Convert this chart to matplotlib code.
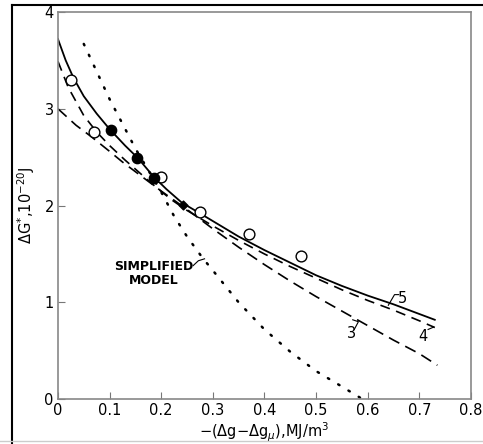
import matplotlib.pyplot as plt
import numpy as np
from matplotlib.lines import Line2D

# curve 5 (solid)
x5 = [0.0, 0.015, 0.03, 0.05, 0.075, 0.1, 0.13, 0.155, 0.185, 0.21, 0.24, 0.275, 0.3,
      0.35, 0.4, 0.45, 0.5, 0.55, 0.6, 0.65, 0.7, 0.73]
y5 = [3.72, 3.5, 3.32, 3.13, 2.95, 2.79, 2.62, 2.49, 2.3, 2.17, 2.03, 1.92, 1.84,
      1.68, 1.54, 1.41, 1.28, 1.17, 1.07, 0.98, 0.88, 0.82]
# curve 4 (dashed)
x4 = [0.0, 0.02, 0.05, 0.075, 0.1, 0.13, 0.16, 0.19, 0.22, 0.25, 0.3, 0.35, 0.4,
      0.45, 0.5, 0.55, 0.6, 0.65, 0.7, 0.73]
y4 = [3.49, 3.22, 2.93, 2.76, 2.62, 2.47, 2.33, 2.19, 2.06, 1.95, 1.79, 1.64, 1.5,
      1.37, 1.25, 1.13, 1.02, 0.92, 0.81, 0.74]
# curve 3 (dashed)
x3 = [0.0, 0.035, 0.065, 0.1, 0.125, 0.16, 0.2, 0.25, 0.3, 0.35, 0.4, 0.45, 0.5,
      0.55, 0.6, 0.65, 0.7, 0.735]
y3 = [3.0, 2.83, 2.71, 2.56, 2.45, 2.31, 2.15, 1.96, 1.76, 1.57, 1.39, 1.22, 1.06,
      0.91, 0.76, 0.61, 0.47, 0.35]
# simplified model (dotted)
xs = [0.05, 0.1, 0.15, 0.2, 0.225, 0.25, 0.28, 0.3, 0.35, 0.4, 0.45, 0.5, 0.55, 0.59]
ys = [3.67, 3.1, 2.59, 2.14, 1.89, 1.68, 1.46, 1.33, 1.0, 0.72, 0.49, 0.29, 0.13, 0.0]
# experimental points
x_open = [0.025, 0.07, 0.2, 0.275, 0.37, 0.47]
y_open = [3.3, 2.76, 2.3, 1.93, 1.71, 1.48]
x_fill = [0.103, 0.154, 0.186, 0.242]
y_fill = [2.78, 2.49, 2.29, 2.01]

fig = plt.figure(figsize=(4.83, 4.44), dpi=100)
ax = fig.add_axes([0.120, 0.101, 0.855, 0.872])

ax.plot(x5, y5, color='black', lw=1.3, solid_joinstyle='round')
ax.plot(x4, y4, color='black', lw=1.2, dashes=(6, 4))
ax.plot(x3, y3, color='black', lw=1.2, dashes=(7, 4))
ax.plot(xs, ys, color='black', lw=1.8, linestyle=(0, (0.6, 4.2)), dash_capstyle='round')
ax.scatter(x_open, y_open, s=60, facecolors='white', edgecolors='black', linewidths=1.0, zorder=3)
ax.scatter(x_fill[:3], y_fill[:3], s=55, color='black', zorder=3)
ax.scatter(x_fill[3:], y_fill[3:], s=20, color='black', marker='D', zorder=3)

# curve labels
ax.text(0.668, 1.04, '5', fontsize=10.5, ha='center', va='center')
ax.plot([0.64, 0.652, 0.66], [0.97, 1.08, 1.08], color='black', lw=0.8)
ax.text(0.707, 0.65, '4', fontsize=10.5, ha='center', va='center')
ax.plot([0.717, 0.728], [0.72, 0.745], color='black', lw=0.8)
ax.text(0.568, 0.68, '3', fontsize=10.5, ha='center', va='center')
ax.plot([0.574, 0.582, 0.571], [0.72, 0.8, 0.82], color='black', lw=0.8)
ax.text(0.186, 1.3, 'SIMPLIFIED\nMODEL', fontsize=9, ha='center', va='center',
        linespacing=1.15, fontweight='semibold')
ax.plot([0.262, 0.272, 0.284], [1.38, 1.43, 1.45], color='black', lw=0.8)

ax.set_xlim(0, 0.8)
ax.set_ylim(0, 4)
ax.set_xticks([0, 0.1, 0.2, 0.3, 0.4, 0.5, 0.6, 0.7, 0.8])
ax.set_xticklabels(['0', '0.1', '0.2', '0.3', '0.4', '0.5', '0.6', '0.7', '0.8'])
ax.set_yticks([0, 1, 2, 3, 4])
ax.tick_params(direction='in', length=5, color='#777777', labelsize=10.5, pad=3)
for s in ax.spines.values():
    s.set_color('#888888')
    s.set_linewidth(1.2)

ax.set_xlabel(r'$-(\Delta$g$-\Delta$g$_{\mu})$,MJ/m$^3$', fontsize=10.5, labelpad=2)
ax.set_ylabel(r'$\Delta$G$^{*}$,10$^{-20}$J', fontsize=10.5, labelpad=5)

# outer frame of the scanned figure
fig.add_artist(Line2D([12 / 483, 12 / 483], [0, 1 - 5 / 444], color='black', lw=1.5))
fig.add_artist(Line2D([12 / 483, 1], [1 - 5 / 444, 1 - 5 / 444], color='black', lw=1.5))
fig.add_artist(Line2D([0, 1], [3 / 444, 3 / 444], color='#cccccc', lw=1.0))

plt.savefig('out.png', dpi=100)
